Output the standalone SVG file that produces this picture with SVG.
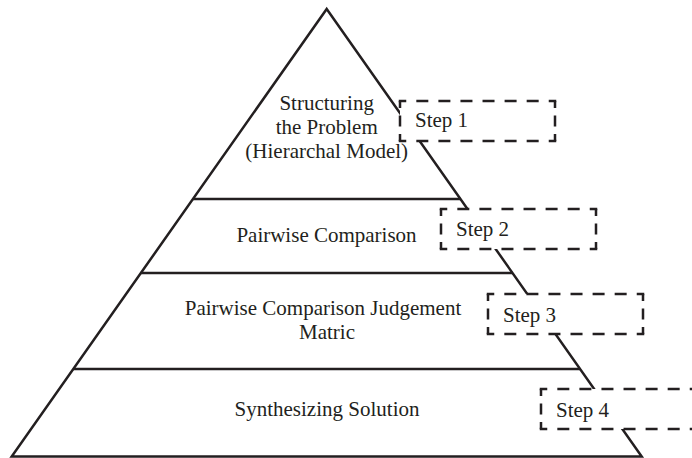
<svg xmlns="http://www.w3.org/2000/svg" width="692" height="458" viewBox="0 0 692 458">
<style>
  .ln { stroke: #231f20; stroke-width: 2.5; fill: none; stroke-linejoin: miter; }
  .t { font-family: "Liberation Serif", "Times New Roman", serif; font-size: 21px; fill: #231f20; }
  .c { text-anchor: middle; }
  .bg { fill: #ffffff; stroke: none; }
  .dh { stroke: #231f20; stroke-width: 2.5; fill: none; stroke-dasharray: 12 10.07; stroke-dashoffset: 4.5; }
  .dv { stroke: #231f20; stroke-width: 2.5; fill: none; stroke-dasharray: 11 7.5; stroke-dashoffset: 4; }
</style>
<rect width="692" height="458" fill="#ffffff"/>
<g id="pyramid">
  <polygon class="ln" points="326.7,9 641.7,456.5 11.7,456.5"/>
  <line class="ln" x1="192.9" y1="199" x2="460.5" y2="199"/>
  <line class="ln" x1="140.8" y1="273" x2="512.6" y2="273"/>
  <line class="ln" x1="73.3" y1="369" x2="580.1" y2="369"/>
</g>
<g id="level1">
  <text class="t c" x="326.7" y="110">Structuring</text>
  <text class="t c" x="326.7" y="134">the Problem</text>
  <text class="t c" x="326.7" y="158">(Hierarchal Model)</text>
</g>
<g id="level2">
  <text class="t c" x="326.5" y="242">Pairwise Comparison</text>
</g>
<g id="level3">
  <text class="t c" x="323" y="315">Pairwise Comparison Judgement</text>
  <text class="t c" x="327" y="339">Matric</text>
</g>
<g id="level4">
  <text class="t c" x="327" y="416">Synthesizing Solution</text>
</g>
<g id="step1">
  <rect class="bg" x="400" y="101" width="155" height="40"/>
  <line class="dh" x1="398.75" y1="101" x2="556.25" y2="101"/>
  <line class="dh" x1="398.75" y1="141" x2="556.25" y2="141"/>
  <line class="dv" x1="400" y1="101" x2="400" y2="141"/>
  <line class="dv" x1="555" y1="101" x2="555" y2="141"/>
  <text class="t" x="415" y="127">Step 1</text>
</g>
<g id="step2">
  <rect class="bg" x="441" y="209" width="155" height="40"/>
  <line class="dh" x1="439.75" y1="209" x2="597.25" y2="209"/>
  <line class="dh" x1="439.75" y1="249" x2="597.25" y2="249"/>
  <line class="dv" x1="441" y1="209" x2="441" y2="249"/>
  <line class="dv" x1="596" y1="209" x2="596" y2="249"/>
  <text class="t" x="456" y="235.5">Step 2</text>
</g>
<g id="step3">
  <rect class="bg" x="488" y="294" width="155" height="40"/>
  <line class="dh" x1="486.75" y1="294" x2="644.25" y2="294"/>
  <line class="dh" x1="486.75" y1="334" x2="644.25" y2="334"/>
  <line class="dv" x1="488" y1="294" x2="488" y2="334"/>
  <line class="dv" x1="643" y1="294" x2="643" y2="334"/>
  <text class="t" x="503" y="322">Step 3</text>
</g>
<g id="step4">
  <rect class="bg" x="541" y="389" width="155" height="40"/>
  <line class="dh" x1="539.75" y1="389" x2="697.25" y2="389"/>
  <line class="dh" x1="539.75" y1="429" x2="697.25" y2="429"/>
  <line class="dv" x1="541" y1="389" x2="541" y2="429"/>
  <line class="dv" x1="696" y1="389" x2="696" y2="429"/>
  <text class="t" x="556" y="416.5">Step 4</text>
</g>
</svg>
